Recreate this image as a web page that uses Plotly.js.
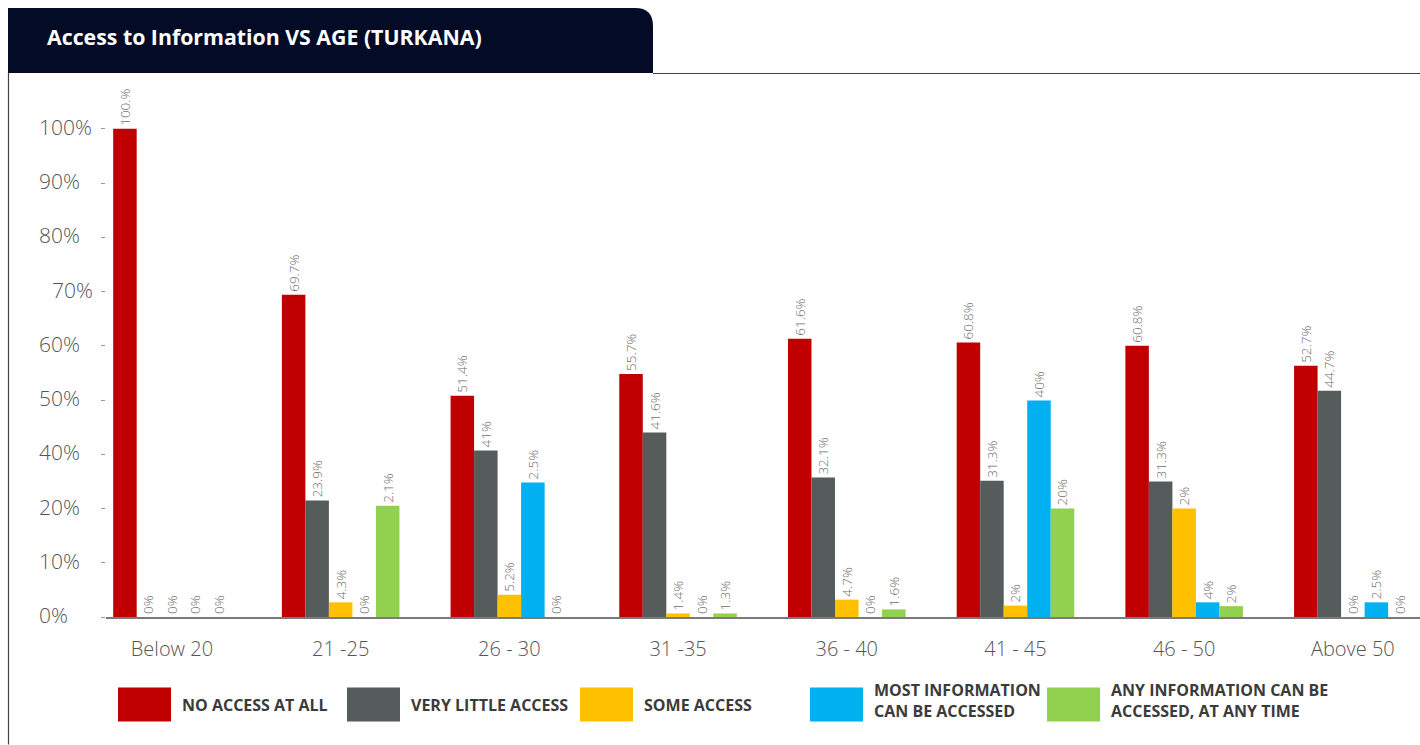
<!DOCTYPE html>
<html><head><meta charset="utf-8">
<script src="https://cdn.plot.ly/plotly-3.0.1.min.js"></script>
<style>html,body{margin:0;padding:0;background:#fff;}#chart{width:1420px;height:745px;}</style>
</head><body><div id="chart"></div>
<script>
// ---- data ----
const categories = ['Below 20','21 -25','26 - 30','31 -35','36 - 40','41 - 45','46 - 50','Above 50'];
const seriesNames = ['NO ACCESS AT ALL','VERY LITTLE ACCESS','SOME ACCESS','MOST INFORMATION<br>CAN BE ACCESSED','ANY INFORMATION CAN BE<br>ACCESSED, AT ANY TIME'];
const seriesColors = ['#c00000','#565b5b','#ffc000','#00b0f0','#92d050'];
// bar heights as drawn, read against the chart's own axis (one tick step = 10 units)
const noAccess   = [90, 59.4, 40.8, 44.8, 51.3, 50.6, 50.0, 46.3];
const veryLittle = [0, 21.5, 30.7, 34.0, 25.7, 25.1, 25.0, 41.7];
const someAccess = [0, 2.7, 4.1, 0.65, 3.2, 2.1, 20.0, 0];
const mostInfo   = [0, 0, 24.8, 0, 0, 39.9, 2.7, 2.7];
const anyInfo    = [0, 20.5, 0, 0.65, 1.4, 20.0, 2.0, 0];
// printed data labels
const noAccessLabels   = ['100.%','69.7%','51.4%','55.7%','61.6%','60.8%','60.8%','52.7%'];
const veryLittleLabels = ['0%','23.9%','41%','41.6%','32.1%','31.3%','31.3%','44.7%'];
const someAccessLabels = ['0%','4.3%','5.2%','1.4%','4.7%','2%','2%','0%'];
const mostInfoLabels   = ['0%','0%','2.5%','0%','0%','40%','4%','2.5%'];
const anyInfoLabels    = ['0%','2.1%','0%','1.3%','1.6%','20%','2%','0%'];
// axis ticks as printed
const yTickVals = [0,10,20,30,40,50,60,70,80,90];
const yTickText = ['0%','10%','20%','40%','50%','60%','70%','80%','90%','100%'];
const chartTitle = 'Access to Information VS AGE (TURKANA)';

// ---- layout helpers ----
const W = 1420, H = 745, L = 106, R = 0, T = 80, B = 127.5;
const px = x => (x - L) / (W - L - R);
const py = y => (H - B - y) / (H - T - B);

const heights = [noAccess, veryLittle, someAccess, mostInfo, anyInfo];
const labels = [noAccessLabels, veryLittleLabels, someAccessLabels, mostInfoLabels, anyInfoLabels];

const traces = heights.map((h, i) => ({
  type: 'bar', x: categories, y: h, name: seriesNames[i],
  marker: {color: seriesColors[i], line: {width: 0}},
  text: labels[i], textposition: 'outside', textangle: -90,
  constraintext: 'none', cliponaxis: false,
  textfont: {family: 'Open Sans', size: 13.5, color: '#6e6e6e', weight: 300},
  hoverinfo: 'skip'
}));

const shapes = [
  // header tab
  {type: 'path', xref: 'paper', yref: 'paper', fillcolor: '#030b27', line: {width: 0},
   path: `M ${px(8)},${py(73)} L ${px(8)},${py(8)} L ${px(635)},${py(8)} Q ${px(653)},${py(8)} ${px(653)},${py(26)} L ${px(653)},${py(73)} Z`},
  {type: 'line', xref: 'paper', yref: 'paper', x0: px(653), x1: px(1420), y0: py(73.5), y1: py(73.5), line: {color: '#444', width: 1}},
  {type: 'line', xref: 'paper', yref: 'paper', x0: px(8.5), x1: px(8.5), y0: py(73), y1: py(745), line: {color: '#444', width: 1.2}}
];

const annotations = [];
// y tick labels (left aligned like the original)
yTickVals.forEach((v, i) => {
  annotations.push({xref: 'paper', yref: 'y', x: px(37), y: v, xanchor: 'left', yanchor: 'middle',
    yshift: 2, xshift: yTickText[i] === '70%' ? 13 : 0,
    text: yTickText[i], showarrow: false, font: {family: 'Open Sans', size: 21, color: '#555555', weight: 300}});
});
// legend
const swatchX = [118, 347, 580, 810, 1047];
seriesNames.forEach((n, i) => {
  shapes.push({type: 'rect', xref: 'paper', yref: 'paper', x0: px(swatchX[i]), x1: px(swatchX[i] + 53),
    y0: py(722), y1: py(688), fillcolor: seriesColors[i], line: {width: 0}});
  const two = n.indexOf('<br>') >= 0;
  annotations.push({xref: 'paper', yref: 'paper', x: px(swatchX[i] + 62), y: py(two ? 701.5 : 706),
    xanchor: 'left', yanchor: 'middle', align: 'left', text: n, showarrow: false,
    font: {family: 'Open Sans', size: 16, color: '#3b3b3b', weight: 700}});
});

const layout = {
  width: W, height: H,
  margin: {l: L, r: R, t: T, b: B, pad: 0},
  paper_bgcolor: '#fff', plot_bgcolor: 'rgba(0,0,0,0)',
  title: {text: chartTitle, xref: 'container', yref: 'container', x: 47 / W, y: 1 - 38 / H,
    xanchor: 'left', yanchor: 'middle',
    font: {family: 'Open Sans', size: 21.3, color: '#ffffff', weight: 700}},
  showlegend: false,
  barmode: 'group', bargap: 0.303, bargroupgap: 0,
  xaxis: {type: 'category', range: [-0.391, 7.398], showline: true, linecolor: '#7a7a7a', linewidth: 1.5,
    ticks: '', showgrid: false, zeroline: false, ticklabelstandoff: 13,
    tickfont: {family: 'Open Sans', size: 20, color: '#555', weight: 300}, fixedrange: true},
  yaxis: {range: [0, 99], tickvals: yTickVals, ticktext: yTickText, showticklabels: false,
    ticks: 'outside', ticklen: 4, tickcolor: '#999', tickwidth: 1,
    showgrid: false, zeroline: false, showline: false, fixedrange: true},
  shapes: shapes, annotations: annotations
};

Plotly.newPlot('chart', traces, layout, {displayModeBar: false, staticPlot: true});
</script>
</body></html>
